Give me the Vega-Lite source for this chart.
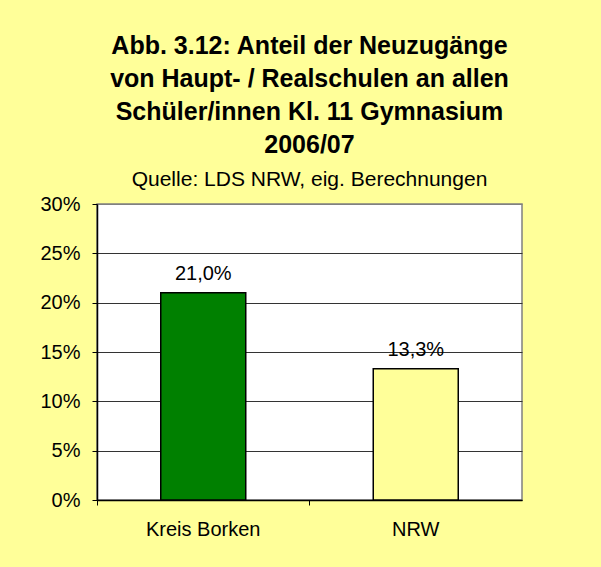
{
  "$schema": "https://vega.github.io/schema/vega-lite/v6.json",
  "autosize": "none",
  "width": 425,
  "height": 296,
  "padding": {"left": 97, "top": 204, "right": 79, "bottom": 67},
  "background": "#FFFF99",
  "config": {
    "locale": {"number": {"decimal": ",", "thousands": ".", "grouping": [3], "currency": ["", " €"]}},
    "font": "Liberation Sans",
    "view": {"fill": "#FFFFFF", "stroke": "#808080", "strokeWidth": 1.5}
  },
  "title": {
    "text": ["Abb. 3.12:  Anteil der Neuzugänge", "von Haupt- / Realschulen an allen", "Schüler/innen Kl. 11 Gymnasium", "2006/07"],
    "subtitle": "Quelle: LDS NRW, eig. Berechnungen",
    "font": "Liberation Sans",
    "fontSize": 25,
    "fontWeight": "bold",
    "lineHeight": 33,
    "color": "#000000",
    "subtitleFont": "Liberation Sans",
    "subtitleFontSize": 21,
    "subtitleColor": "#000000",
    "subtitlePadding": 11,
    "anchor": "middle",
    "offset": 4
  },
  "data": {
    "values": [
      {"region": "Kreis Borken", "anteil": 0.21},
      {"region": "NRW", "anteil": 0.133}
    ]
  },
  "encoding": {
    "x": {
      "field": "region",
      "type": "nominal",
      "sort": null,
      "scale": {"paddingInner": 0, "paddingOuter": 0},
      "axis": {
        "title": null,
        "labelAngle": 0,
        "labelFontSize": 20,
        "labelColor": "#000000",
        "labelPadding": 14,
        "domainColor": "#000000",
        "domainWidth": 1.5,
        "tickColor": "#000000",
        "tickSize": 5,
        "bandPosition": 0,
        "grid": false
      }
    },
    "y": {
      "field": "anteil",
      "type": "quantitative",
      "scale": {"domain": [0, 0.3], "nice": false},
      "axis": {
        "title": null,
        "values": [0, 0.05, 0.1, 0.15, 0.2, 0.25, 0.3],
        "format": ".0%",
        "labelFontSize": 20,
        "labelColor": "#000000",
        "labelPadding": 12,
        "domainColor": "#000000",
        "domainWidth": 1.5,
        "tickColor": "#000000",
        "tickSize": 5,
        "grid": true,
        "gridColor": {"condition": {"test": "datum.value >= 0.3", "value": "#808080"}, "value": "#333333"},
        "gridWidth": 1
      }
    }
  },
  "layer": [
    {
      "mark": {"type": "bar", "width": {"band": 0.4}, "stroke": "#000000", "strokeWidth": 1.5},
      "encoding": {
        "color": {
          "field": "region",
          "type": "nominal",
          "scale": {"domain": ["Kreis Borken", "NRW"], "range": ["#008000", "#FFFF99"]},
          "legend": null
        },
        "fillOpacity": {"value": 1}
      }
    },
    {
      "mark": {"type": "text", "baseline": "alphabetic", "dy": -13, "fontSize": 20, "color": "#000000"},
      "encoding": {
        "text": {"field": "anteil", "type": "quantitative", "format": ".1%"}
      }
    }
  ]
}
